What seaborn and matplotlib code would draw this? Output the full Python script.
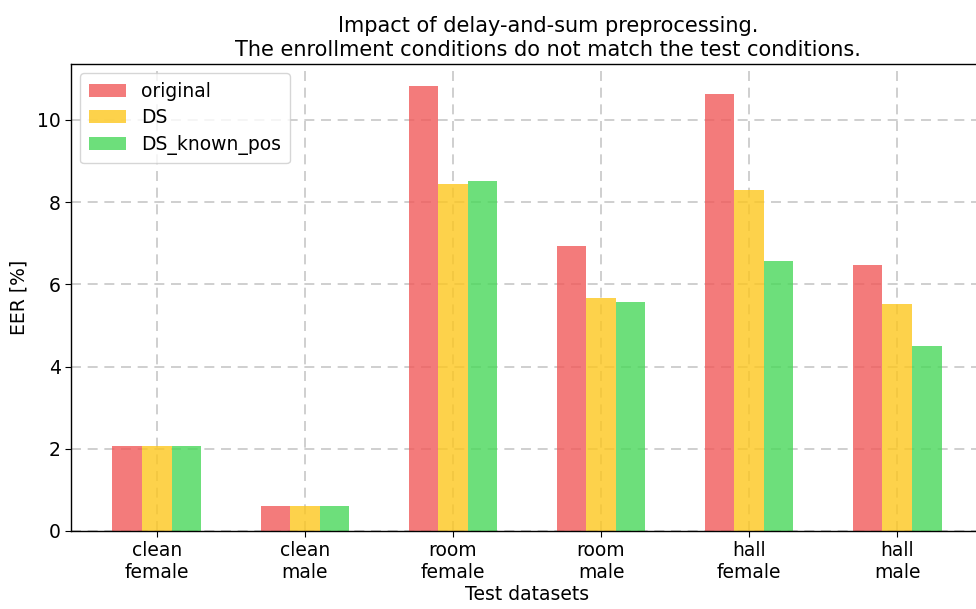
import matplotlib
matplotlib.use("Agg")
import matplotlib.pyplot as plt
import seaborn as sns
import pandas as pd

categories = ["clean\nfemale", "clean\nmale", "room\nfemale", "room\nmale", "hall\nfemale", "hall\nmale"]
series_names = ["original", "DS", "DS_known_pos"]
original = [2.07, 0.61, 10.82, 6.93, 10.62, 6.47]
ds = [2.07, 0.61, 8.43, 5.66, 8.30, 5.52]
ds_known_pos = [2.07, 0.61, 8.51, 5.56, 6.58, 4.50]
colors = ["#F15A5A", "#FDC71E", "#49D85A"]

rows = []
for name, vals in zip(series_names, [original, ds, ds_known_pos]):
    for c, v in zip(categories, vals):
        rows.append({"dataset": c, "method": name, "EER": v})
df = pd.DataFrame(rows)

plt.rcParams["font.family"] = ["DejaVu Sans"]
fig = plt.figure(figsize=(9.76, 6.09), dpi=100)
ax = fig.add_axes([71/976, 78/609, (983-71)/976, (531-64)/609])

sns.barplot(data=df, x="dataset", y="EER", hue="method", order=categories,
            hue_order=series_names, palette=colors, width=0.6, gap=0,
            alpha=0.8, ax=ax, errorbar=None, saturation=1, linewidth=0,
            zorder=2)

ax.set_xlim(-0.58, 5.58)
ax.set_ylim(0, 11.36)
ax.set_yticks([0, 2, 4, 6, 8, 10])
ax.set_axisbelow(True)
ax.grid(True, axis="both", color="#b0b0b0", alpha=0.7, linewidth=1.2,
        linestyle=(0, (6, 4)))
for s in ax.spines.values():
    s.set_visible(True)
    s.set_linewidth(1.0)
    s.set_color("black")
ax.tick_params(axis="both", labelsize=13.5, direction="out", length=4)
ax.set_xlabel("Test datasets", fontsize=13.5, labelpad=2)
ax.set_ylabel("EER [%]", fontsize=13.5, labelpad=6)
ax.set_title("Impact of delay-and-sum preprocessing.\nThe enrollment conditions do not match the test conditions.",
             fontsize=15, x=(548-71)/(983-71), pad=6, linespacing=1.2)

leg = ax.legend(loc="upper left", fontsize=13.5, frameon=True, borderpad=0.45,
                handlelength=2.0, labelspacing=0.4)
leg.get_frame().set_edgecolor("#cccccc")

fig.savefig("out.png", dpi=100)
